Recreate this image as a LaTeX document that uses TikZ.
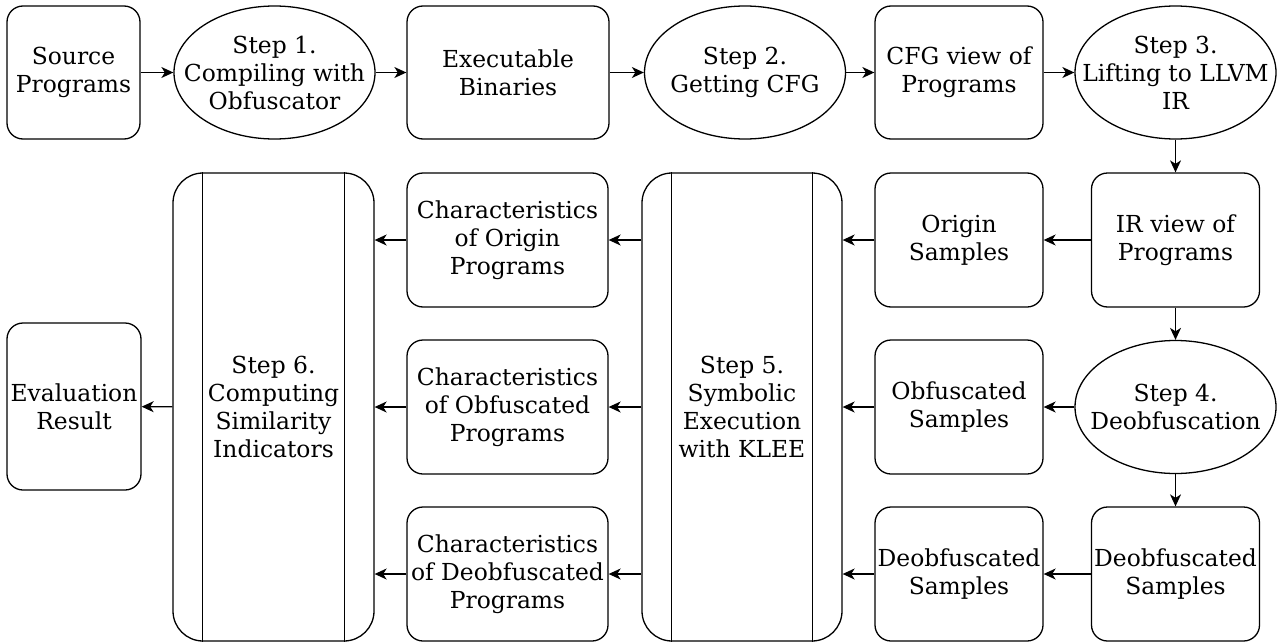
\documentclass[tikz,border=0pt]{standalone}
\usepackage{fontspec}
\setmainfont{DejaVu Serif}
\usetikzlibrary{shapes.geometric}
\usetikzlibrary{arrows.meta}

\tikzset{
  every node/.style={font=\fontsize{23.4}{28}\selectfont, align=center},
  box/.style={draw, rounded corners=16, inner sep=0, minimum height=134},
  stepell/.style={draw, ellipse, inner sep=-30pt, minimum width=201, minimum height=133},
  bigbox/.style={draw, rounded corners=30, inner sep=0, minimum width=200, minimum height=468},
  arr/.style={-{Stealth[length=12pt,width=11pt,inset=3.5pt]}}
}

\begin{document}
\begin{tikzpicture}[x=1pt, y=-1pt, line width=1.3pt]
    \useasboundingbox (0, 0) rectangle (1281, 642);

    % first row
    \node[box, minimum width=133, minimum height=133] (src) at (73.5, 72.5) {Source\\Programs};
    \node[stepell] (s1) at (274.5, 72.5) {Step 1.\\Compiling with\\Obfuscator};
    \node[box, minimum width=202, minimum height=133] (exe) at (508, 72.5) {Executable\\Binaries};
    \node[stepell] (s2) at (745, 72.5) {Step 2.\\Getting CFG};
    \node[box, minimum width=168, minimum height=133] (cfg) at (959, 72.5) {CFG view of\\Programs};
    \node[stepell] (s3) at (1175.5, 72.5) {Step 3.\\Lifting to LLVM\\IR};

    % right columns
    \node[box, minimum width=168] (ir) at (1175.5, 240) {IR view of\\Programs};
    \node[stepell] (s4) at (1175.5, 407) {Step 4.\\Deobfuscation};
    \node[box, minimum width=168] (deor) at (1175.5, 574) {Deobfuscated\\Samples};
    \node[box, minimum width=168] (orig) at (959, 240) {Origin\\Samples};
    \node[box, minimum width=168] (obf) at (959, 407) {Obfuscated\\Samples};
    \node[box, minimum width=168] (deo) at (959, 574) {Deobfuscated\\Samples};

    % symbolic execution
    \node[bigbox] (s5) at (742, 407) {Step 5.\\Symbolic\\Execution\\with KLEE};
    \draw ([xshift=30pt]s5.north west) -- ([xshift=30pt]s5.south west);
    \draw ([xshift=-30pt]s5.north east) -- ([xshift=-30pt]s5.south east);

    \node[box, minimum width=201] (co) at (507.5, 240) {Characteristics\\of Origin\\Programs};
    \node[box, minimum width=201] (cob) at (507.5, 407) {Characteristics\\of Obfuscated\\Programs};
    \node[box, minimum width=201] (cod) at (507.5, 574) {Characteristics\\of Deobfuscated\\Programs};

    % similarity
    \node[bigbox, minimum width=201] (s6) at (273.5, 407) {Step 6.\\Computing\\Similarity\\Indicators};
    \draw ([xshift=30pt]s6.north west) -- ([xshift=30pt]s6.south west);
    \draw ([xshift=-30pt]s6.north east) -- ([xshift=-30pt]s6.south east);

    \node[box, minimum width=134, minimum height=167] (eval) at (74, 406.5) {Evaluation\\Result};

    % arrows
    \draw[arr] (src) -- (s1);
    \draw[arr] (s1) -- (exe);
    \draw[arr] (exe) -- (s2);
    \draw[arr] (s2) -- (cfg);
    \draw[arr] (cfg) -- (s3);
    \draw[arr] (s3) -- (ir);
    \draw[arr] (ir) -- (s4);
    \draw[arr] (s4) -- (deor);
    \draw[arr] (ir) -- (orig);
    \draw[arr] (s4) -- (obf);
    \draw[arr] (deor) -- (deo);
    \draw[arr] (orig) -- (s5.east |- orig.west);
    \draw[arr] (obf) -- (s5.east |- obf.west);
    \draw[arr] (deo) -- (s5.east |- deo.west);
    \draw[arr] (s5.west |- co.east) -- (co);
    \draw[arr] (s5.west |- cob.east) -- (cob);
    \draw[arr] (s5.west |- cod.east) -- (cod);
    \draw[arr] (co) -- (s6.east |- co.west);
    \draw[arr] (cob) -- (s6.east |- cob.west);
    \draw[arr] (cod) -- (s6.east |- cod.west);
    \draw[arr] (s6) -- (eval);
\end{tikzpicture}
\end{document}
